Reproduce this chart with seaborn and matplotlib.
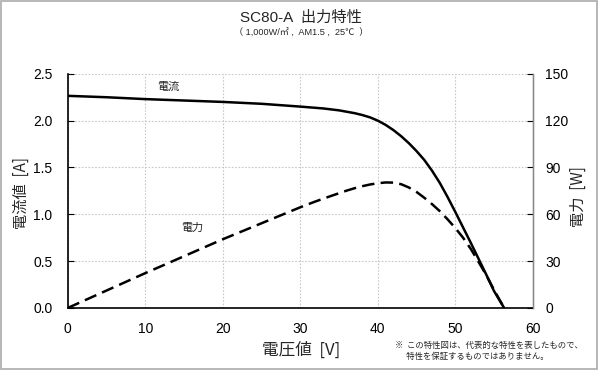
import numpy as np
import pandas as pd
import matplotlib
matplotlib.use("Agg")
import matplotlib.pyplot as plt
from matplotlib.patches import Rectangle
import seaborn as sns

# I-V and P-V characteristics
volt_i = [0, 5, 10, 15, 20, 25, 30, 33, 35, 36, 37, 38, 39, 40, 41, 42, 43, 44, 45,
          46, 47, 48, 49, 50, 51, 52, 53, 54, 55, 56.3]
current = [2.265, 2.25, 2.23, 2.215, 2.2, 2.18, 2.15, 2.13, 2.11, 2.095, 2.08, 2.06,
           2.035, 2.0, 1.955, 1.90, 1.835, 1.76, 1.675, 1.58, 1.465, 1.335, 1.185,
           1.025, 0.86, 0.695, 0.525, 0.355, 0.18, 0.0]

volt_p = [0, 10, 20, 30, 32, 34, 35, 36, 37, 38, 39, 40, 41, 42, 43, 44, 45, 46, 47,
          48, 49, 50, 51, 52, 53, 54, 55, 56.3]
power = [0, 22.3, 44, 64.5, 68.3, 71.8, 73.5, 75.2, 76.7, 78, 79.1, 79.9, 80.4, 80.3,
         79.3, 77.2, 74.3, 70.6, 66.5, 62, 56.8, 51.2, 45, 37.8, 29.5, 21, 11.5, 0]

x_ticks = [0, 10, 20, 30, 40, 50, 60]
i_ticks = [0.0, 0.5, 1.0, 1.5, 2.0, 2.5]
p_ticks = [0, 30, 60, 90, 120, 150]

iv = pd.DataFrame({"V": volt_i, "I": current})
pv = pd.DataFrame({"V": volt_p, "P": power})

sns.set_style("white")
plt.rcParams["font.family"] = ["Liberation Sans", "Noto Sans CJK JP", "DejaVu Sans"]
JP = ["Noto Sans CJK JP", "DejaVu Sans"]

fig = plt.figure(figsize=(6, 3.71), dpi=100)
ax = fig.add_axes([0.113, 0.170, 0.775, 0.631])
ax2 = ax.twinx()

sns.lineplot(data=iv, x="V", y="I", ax=ax, color="black", linewidth=1.8, sort=False)
sns.lineplot(data=pv, x="V", y="P", ax=ax2, color="black", linewidth=1.8, sort=False,
             linestyle=(0, (5, 2.5)))

ax.set_xlim(0, 60)
ax.set_ylim(0, 2.5)
ax2.set_ylim(0, 150)
ax.set_xticks(x_ticks)
ax.set_yticks(i_ticks)
ax.set_yticklabels([f"{t:.1f}" for t in i_ticks])
ax2.set_yticks(p_ticks)

ax.grid(True, color="#c8c8c8", linestyle=(0, (1.5, 1.5)), linewidth=0.8)
ax.tick_params(axis="x", direction="in", length=4, labelsize=10, pad=10, colors="black")
ax.tick_params(axis="y", direction="in", length=4, labelsize=10, pad=11, colors="black")
ax2.tick_params(direction="in", length=4, labelsize=10, pad=9, colors="black")

for s in ["left", "bottom"]:
    ax.spines[s].set_color("black")
    ax.spines[s].set_linewidth(1.2)
ax.spines["top"].set_visible(False)
ax2.spines["top"].set_visible(False)
ax2.spines["right"].set_color("#888888")
ax2.spines["right"].set_linewidth(1.0)
ax2.spines["left"].set_visible(False)
ax2.spines["bottom"].set_visible(False)

ax.set_xlabel("")
ax.set_ylabel("")
ax2.set_ylabel("")

fig.text(0.035, 0.48, "電流値  [A]", rotation=90, ha="center", va="center",
         fontsize=11, family=JP)
fig.text(0.963, 0.469, "電力  [W]", rotation=90, ha="center", va="center",
         fontsize=11, family=JP)
fig.text(0.502, 0.057, "電圧値  [V]", ha="center", va="center", fontsize=12, family=JP)

ax.text(12.9, 2.36, "電流", ha="center", va="center", fontsize=8, family=JP)
ax.text(16.1, 0.86, "電力", ha="center", va="center", fontsize=8, family=JP)

fig.text(0.502, 0.951, "SC80-A  出力特性", ha="center", va="center", fontsize=11,
         family=["Liberation Sans", "Noto Sans CJK JP"])
fig.text(0.502, 0.912, "（ 1,000W/㎡ ,  AM1.5 ,  25℃  ）", ha="center", va="center",
         fontsize=6.6, family=["Liberation Sans", "Noto Sans CJK JP"])

fig.text(0.658, 0.054, "※  この特性図は、代表的な特性を表したもので、\n      特性を保証するものではありません。",
         ha="left", va="center", fontsize=6, family=JP, linespacing=1.25)

fig.patches.append(Rectangle((0.002, 0.006), 0.993, 0.99, transform=fig.transFigure,
                             fill=False, edgecolor="#aaaaaa", linewidth=1.2))

fig.savefig("out.png", dpi=100)
